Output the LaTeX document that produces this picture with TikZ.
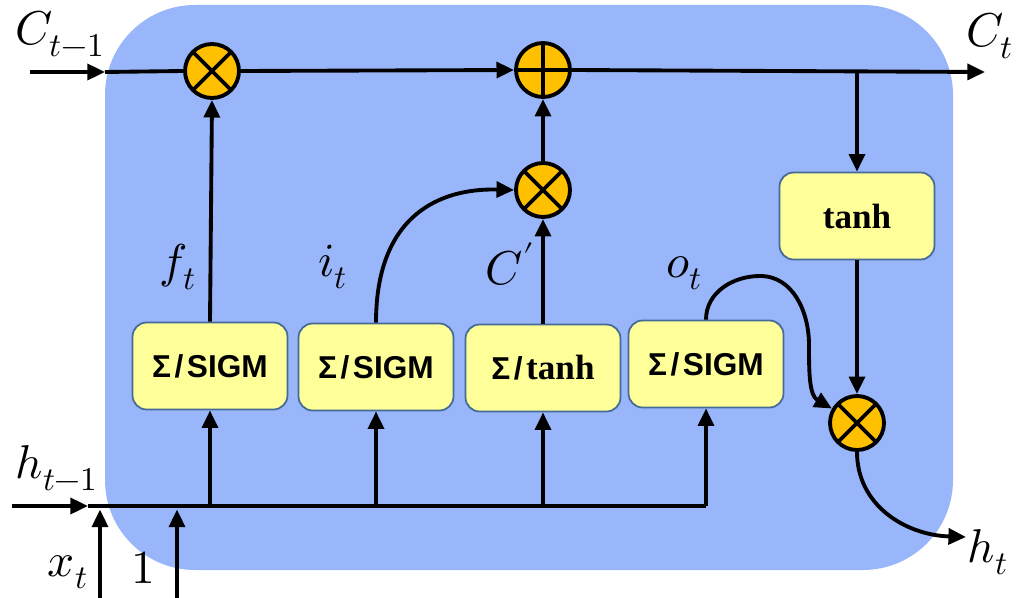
\documentclass[tikz,border=0pt]{standalone}
\usepackage{fontspec}
\usepackage{unicode-math}
\setmathfont{Latin Modern Math}
\usetikzlibrary{arrows.meta}
\newfontfamily\sigmfont{Liberation Sans}
\newfontfamily\tanhfont{Liberation Serif}
\definecolor{cellblue}{RGB}{153,182,251}
\definecolor{gateyellow}{RGB}{255,255,153}
\definecolor{gateedge}{RGB}{68,106,150}
\definecolor{opyellow}{RGB}{255,192,0}

\begin{document}
\begin{tikzpicture}[x=0.02cm,y=-0.02cm,line width=2.2pt,
                    >={Triangle[length=10pt,width=9pt]},
                    gate/.style={draw=gateedge,line width=1pt,fill=gateyellow,rounded corners=8pt,
                                 minimum width=3.1cm,minimum height=1.74cm,inner sep=0pt},
                    op/.style={circle,draw,line width=2.2pt,fill=opyellow,minimum size=1.08cm,inner sep=0pt},
                    mult/.style={op,path picture={\draw[line width=2.2pt]
                        (path picture bounding box.north west)--(path picture bounding box.south east)
                        (path picture bounding box.north east)--(path picture bounding box.south west);}},
                    plus/.style={op,path picture={\draw[line width=2.2pt]
                        (path picture bounding box.north)--(path picture bounding box.south)
                        (path picture bounding box.west)--(path picture bounding box.east);}},
                    lbl/.style={font=\fontsize{27}{30}\selectfont},
                    sigm/.style={font=\sigmfont\bfseries\fontsize{18}{20}\selectfont},
                    tanhf/.style={font=\tanhfont\bfseries\fontsize{20}{22}\selectfont}]
                    \useasboundingbox(0,0)rectangle(1021,598);
                    \fill[cellblue,rounded corners=1.8cm](105,5)rectangle(953,570);
                    \coordinate(cin)at(30,72);
                    \coordinate(cL)at(105,72);
                    \coordinate(cout)at(985,72);
                    \coordinate(tap)at(857,72);
                    \coordinate(hin)at(12,506);
                    \coordinate(hL)at(88,506);
                    \coordinate(xin)at(100,598);
                    \coordinate(onein)at(177,598);
                    \coordinate(obend)at(809,345);
                    \coordinate(hout)at(966,537);
                    \node[mult](m1)at(212,71){};
                    \node[plus](a1)at(543,70){};
                    \node[mult](m2)at(543,190){};
                    \node[mult](m3)at(857,423){};
                    \node[gate,sigm](g1)at(210,366){Σ\kern2pt/\kern2pt SIGM};
                    \node[gate,sigm](g2)at(376,367){Σ\kern2pt/\kern2pt SIGM};
                    \node[gate](g3)at(543,368){{\sigmfont\bfseries\fontsize{18}{20}\selectfont Σ\kern2pt/\kern2pt}{\tanhfont\bfseries\fontsize{20}{22}\selectfont tanh}};
                    \node[gate,sigm](g4)at(706,364){Σ\kern2pt/\kern2pt SIGM};
                    \node[gate,tanhf](t1)at(857,216){tanh};
                    \draw[->](cin)--(cL);
                    \draw(cL)--(m1.west);
                    \draw[->](m1.east)--(a1.west);
                    \draw[->](a1.east)--(cout);
                    \draw[->](tap)--(t1.north);
                    \draw[->](t1.south)--(m3.north);
                    \draw[->](g1.north)--(m1.south);
                    \draw[->](g3.north)--(m2.south);
                    \draw[->](m2.north)--(a1.south);
                    \draw[->](g2.north)..controls(376,215)and(440,188)..(m2.west);
                    \draw[->](g4.north)to[out=90,in=180](760,276)to[out=0,in=90](obend)to[out=-90,in=150](m3);
                    \draw[->](m3.south)..controls(857,505)and(905,535)..(hout);
                    \draw[->](hin)--(hL);
                    \draw(hL)--(g4.south|-hL);
                    \foreach \g in {g1,g2,g3,g4}
                      \draw[->](\g.south|-hL)--(\g.south);
                    \draw[->](xin)--([yshift=-2pt]xin|-hL);
                    \draw[->](onein)--([yshift=-2pt]onein|-hL);
                    \node[lbl](Cprev)at(60,34){$C_{t-1}$};
                    \node[lbl](Cnext)at(990,36){$C_t$};
                    \node[lbl](ft)at(178,267){$f_t$};
                    \node[lbl](it)at(333,267){$i_t$};
                    \node[lbl](Cp)at(510,264){$C'$};
                    \node[lbl](ot)at(684,273){$o_t$};
                    \node[lbl](hprev)at(57,468){$h_{t-1}$};
                    \node[lbl](xt)at(68,572){$x_t$};
                    \node[lbl](one)at(143,568){$1$};
                    \node[lbl](ht)at(988,552){$h_t$};
                \end{tikzpicture}
\end{document}
